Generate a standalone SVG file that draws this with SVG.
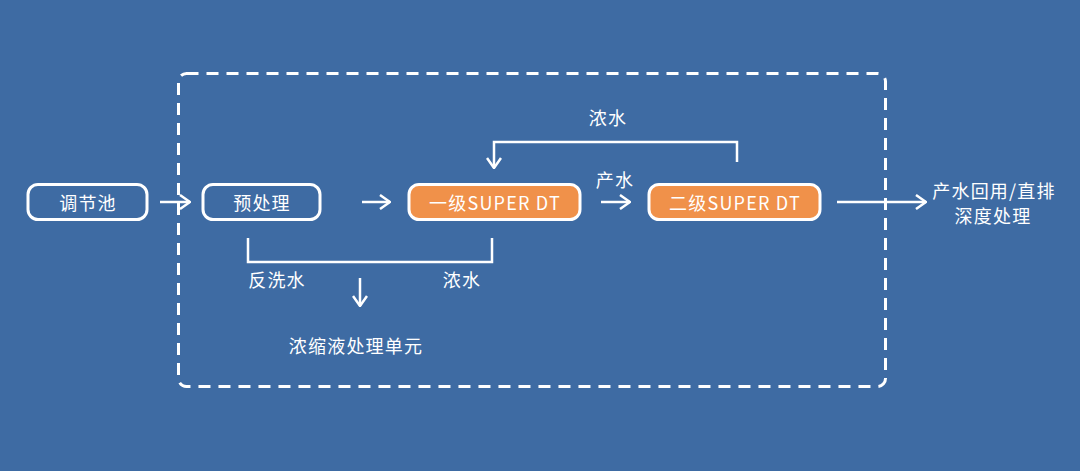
<svg xmlns="http://www.w3.org/2000/svg" width="1080" height="471" viewBox="0 0 1080 471">
<defs>
<style>
.bg{fill:#3e6ba3}
.node{fill:none;stroke:#fff;stroke-width:3}
.onode{fill:#f0914a;stroke:#fff;stroke-width:3}
.t{font-family:"Noto Sans CJK SC","Noto Sans",sans-serif;font-size:18px;letter-spacing:1.2px;fill:#fff;text-anchor:middle;dominant-baseline:central}
.ln{fill:none;stroke:#fff;stroke-width:2.5}
.frame{fill:none;stroke:#fff;stroke-width:3;stroke-dasharray:12 8}
</style>
<marker id="ah" viewBox="0 0 12 16" refX="11" refY="8" markerWidth="12" markerHeight="16" markerUnits="userSpaceOnUse" orient="auto">
<path d="M1,1 L11,8 L1,15" fill="none" stroke="#fff" stroke-width="2.5"/>
</marker>
</defs>
<rect class="bg" x="0" y="0" width="1080" height="471"/>
<rect class="frame" x="178.5" y="73.5" width="707" height="313" rx="8"/>
<g id="connectors">
<line class="ln" x1="160" y1="202" x2="190" y2="202" marker-end="url(#ah)"/>
<line class="ln" x1="362" y1="202" x2="390" y2="202" marker-end="url(#ah)"/>
<line class="ln" x1="601" y1="202" x2="630" y2="202" marker-end="url(#ah)"/>
<line class="ln" x1="837" y1="202" x2="926" y2="202" marker-end="url(#ah)"/>
<polyline class="ln" points="737,162 737,142 494,142 494,168" marker-end="url(#ah)"/>
<polyline class="ln" points="248,238 248,262 492,262 492,238"/>
<line class="ln" x1="360" y1="278" x2="360" y2="306" marker-end="url(#ah)"/>
</g>
<g id="n1"><rect class="node" x="28" y="184.5" width="119" height="35" rx="10"/><text class="t" x="88" y="202">调节池</text></g>
<g id="n2"><rect class="node" x="203" y="184.5" width="117" height="35" rx="10"/><text class="t" x="262" y="202">预处理</text></g>
<g id="n3"><rect class="onode" x="409" y="184.5" width="171" height="35" rx="10"/><text class="t" x="495" y="202">一级SUPER DT</text></g>
<g id="n4"><rect class="onode" x="649" y="184.5" width="171" height="35" rx="10"/><text class="t" x="735" y="202">二级SUPER DT</text></g>
<g id="n5"><text class="t" x="994" y="189.5">产水回用/直排</text><text class="t" x="993" y="215">深度处理</text></g>
<g id="n6"><text class="t" x="356" y="345">浓缩液处理单元</text></g>
<g id="labels">
<text class="t" x="608" y="117">浓水</text>
<text class="t" x="615" y="179">产水</text>
<text class="t" x="277" y="279">反洗水</text>
<text class="t" x="462" y="279">浓水</text>
</g>
</svg>
